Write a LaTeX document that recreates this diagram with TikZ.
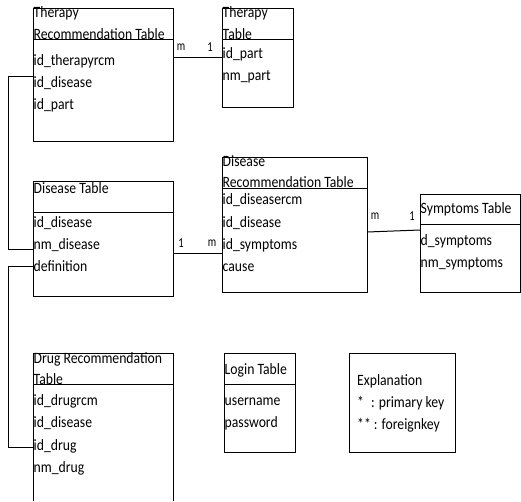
\documentclass[tikz,border=0pt]{standalone}
\usepackage{graphicx}
\usepackage{fontspec}
\setmainfont{Carlito}
\newcommand\vst[1]{\scalebox{1}[1.15]{#1}}
\newcommand\vsc[1]{\scalebox{1}[1.3]{#1}}
\begin{document}
\begin{tikzpicture}[x=1pt,y=-1pt,
  tbl/.style={draw, line width=1pt, inner sep=0pt, outer sep=0pt, anchor=north west},
  txt/.style={anchor=base west, inner sep=0pt, font=\fontsize{13.7}{16}\selectfont},
  card/.style={anchor=center, inner sep=0pt, font=\fontsize{10.5}{12}\selectfont},
  lnk/.style={line width=1pt}]
\path[use as bounding box, fill=white] (0,0) rectangle (521,501);

% Therapy Recommendation Table
\node[tbl, minimum width=140pt, minimum height=133pt] (trt) at (33,8) {};
\draw[lnk] (33,39) -- (173,39);
\node[txt] (trt-t1) at (33.5,17.5) {\vst{Therapy}};
\node[txt] (trt-t2) at (33.5,39) {\vst{Recommendation Table}};
\node[txt] (trt-r1) at (33.5,65) {\vst{id\_therapyrcm}};
\node[txt] (trt-r2) at (33.5,87) {\vst{id\_disease}};
\node[txt] (trt-r3) at (33.5,109) {\vst{id\_part}};

% Therapy Table
\node[tbl, minimum width=71pt, minimum height=99pt] (tt) at (222,8) {};
\draw[lnk] (222,39) -- (293,39);
\node[txt] (tt-t1) at (222.5,17.5) {\vst{Therapy}};
\node[txt] (tt-t2) at (222.5,39) {\vst{Table}};
\node[txt] (tt-r1) at (222.5,58) {\vst{id\_part}};
\node[txt] (tt-r2) at (222.5,80) {\vst{nm\_part}};

% Disease Table
\node[tbl, minimum width=140pt, minimum height=115pt] (dt) at (33,181) {};
\draw[lnk] (33,212) -- (173,212);
\node[txt] (dt-t1) at (33.5,193) {\vst{Disease Table}};
\node[txt] (dt-r1) at (33.5,227) {\vst{id\_disease}};
\node[txt] (dt-r2) at (33.5,249) {\vst{nm\_disease}};
\node[txt] (dt-r3) at (33.5,271) {\vst{definition}};

% Disease Recommendation Table
\node[tbl, minimum width=145pt, minimum height=135pt] (drt) at (222,157) {};
\draw[lnk] (222,188) -- (367,188);
\node[txt] (drt-t1) at (222.5,166) {\vst{Disease}};
\node[txt] (drt-t2) at (222.5,187) {\vst{Recommendation Table}};
\node[txt] (drt-r1) at (222.5,204) {\vst{id\_diseasercm}};
\node[txt] (drt-r2) at (222.5,227) {\vst{id\_disease}};
\node[txt] (drt-r3) at (222.5,249) {\vst{id\_symptoms}};
\node[txt] (drt-r4) at (222.5,271) {\vst{cause}};

% Symptoms Table
\node[tbl, minimum width=100pt, minimum height=98pt] (st) at (420,194) {};
\draw[lnk] (420,224) -- (520,224);
\node[txt] (st-t1) at (420.5,213) {\vst{Symptoms Table}};
\node[txt] (st-r1) at (420.5,245) {\vst{d\_symptoms}};
\node[txt] (st-r2) at (420.5,267) {\vst{nm\_symptoms}};

% Drug Recommendation Table (bottom cut off)
\node[tbl, draw=none, minimum width=140pt, minimum height=148pt] (dgt) at (33,353) {};
\draw[lnk] (dgt.south west) -- (dgt.north west) -- (dgt.north east) -- (dgt.south east);
\draw[lnk] (33,384) -- (173,384);
\node[txt] (dgt-t1) at (33.5,363) {\vst{Drug Recommendation}};
\node[txt] (dgt-t2) at (33.5,384) {\vst{Table}};
\node[txt] (dgt-r1) at (33.5,405) {\vst{id\_drugrcm}};
\node[txt] (dgt-r2) at (33.5,427.5) {\vst{id\_disease}};
\node[txt] (dgt-r3) at (33.5,450) {\vst{id\_drug}};
\node[txt] (dgt-r4) at (33.5,472.5) {\vst{nm\_drug}};

% Login Table
\node[tbl, minimum width=71pt, minimum height=99pt] (lt) at (224,353) {};
\draw[lnk] (224,384) -- (295,384);
\node[txt] (lt-t1) at (224.5,374) {\vst{Login Table}};
\node[txt] (lt-r1) at (224.5,405) {\vst{username}};
\node[txt] (lt-r2) at (224.5,427) {\vst{password}};

% Explanation
\node[tbl, minimum width=106pt, minimum height=99pt] (ex) at (349,353) {};
\node[txt] (ex-t1) at (357,385) {\vst{Explanation}};
\node[txt] (ex-r1) at (357,407) {\vst{*\hspace{7pt}: primary key}};
\node[txt] (ex-r2) at (357,429) {\vst{** : foreignkey}};

% connector coordinates
\coordinate (a1) at (173,57);
\coordinate (a2) at (222,57);
\coordinate (b1) at (33,76);
\coordinate (b2) at (8,76);
\coordinate (b3) at (8,249);
\coordinate (b4) at (33,249);
\coordinate (c1) at (33,266);
\coordinate (c2) at (8,266);
\coordinate (c3) at (8,447);
\coordinate (c4) at (33,447);
\coordinate (d1) at (173,253);
\coordinate (d2) at (222,253);
\coordinate (e1) at (367,232);
\coordinate (e2) at (420,230);

\draw[lnk] (a1) -- (a2);
\draw[lnk] (b1) -- (b2) -- (b3) -- (b4);
\draw[lnk] (c1) -- (c2) -- (c3) -- (c4);
\draw[lnk] (d1) -- (d2);
\draw[lnk] (e1) -- (e2);

% cardinalities
\node[card] (ca1) at (181,47) {\vsc{m}};
\node[card] (ca2) at (210,47) {\vsc{1}};
\node[card] (cd1) at (181,243) {\vsc{1}};
\node[card] (cd2) at (212,243) {\vsc{m}};
\node[card] (ce1) at (375,216) {\vsc{m}};
\node[card] (ce2) at (412,216) {\vsc{1}};
\end{tikzpicture}
\end{document}
